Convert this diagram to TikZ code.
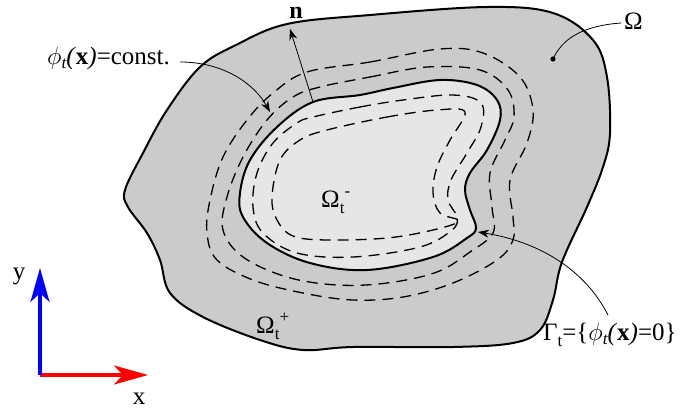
\documentclass[tikz,border=0pt]{standalone}
\usepackage{fontspec}
\setmainfont{Liberation Serif}
\usetikzlibrary{arrows.meta}
\definecolor{outerfill}{HTML}{CBCBCB}
\definecolor{innerfill}{HTML}{E6E6E6}
\newcommand{\subsz}{\fontsize{17}{19}\selectfont}
\newcommand{\phisym}{\ensuremath{\phi}}
\begin{document}
\begin{tikzpicture}[x=1pt,y=-1pt,
  lbl/.style={font=\fontsize{25}{29}\selectfont, inner sep=0pt},
  level/.style={dash pattern=on 11pt off 7pt, line width=1.3pt},
  bnd/.style={line width=2pt},
  lead/.style={line width=0.8pt,-{Stealth[length=11pt,width=8pt]}},
  axis/.style={line width=3.2pt,-{Stealth[length=34pt,width=19pt,inset=9pt]}}]
\useasboundingbox (0,0) rectangle (681,410);
% outer domain
\draw[bnd, fill=outerfill] plot[smooth cycle, tension=0.6] coordinates {
 (287,24) (370,15) (487,7) (553,13) (593,40) (607,77) (610,133) (603,167)
 (587,207) (562,262) (553,300) (540,330) (513,343) (453,347) (353,347)
 (303,350) (260,340) (203,317) (170,293) (160,260) (147,233) (128,207)
 (125,190) (143,153) (167,110) (200,67) (236,45)};
% outer level sets
\draw[level] plot[smooth cycle, tension=0.6] coordinates {
 (307,72) (370,62) (440,49) (483,53) (520,77) (533,110) (527,143) (510,180)
 (513,217) (513,240) (497,260) (453,283) (403,297) (353,300) (303,293)
 (253,280) (217,260) (207,233) (210,200) (223,157) (247,120) (273,93)};
\draw[level] plot[smooth cycle, tension=0.6] coordinates {
 (320,87) (370,77) (427,67) (480,70) (508,90) (514,117) (505,140) (490,173)
 (492,207) (493,233) (470,252) (437,272) (387,283) (337,285) (287,277)
 (243,257) (223,230) (227,197) (243,157) (267,120) (293,97)};
% inner domain
\draw[bnd, fill=innerfill] plot[smooth cycle, tension=0.6] coordinates {
 (313,102) (360,95) (393,88) (440,80) (477,85) (497,100) (500,120) (487,150)
 (470,173) (465,190) (470,210) (476,228) (467,238) (433,257) (367,270)
 (310,263) (267,243) (243,217) (240,193) (250,160) (277,127)};
% inner level sets
\draw[level] plot[smooth cycle, tension=0.6] coordinates {
 (313,117) (360,107) (403,100) (453,95) (481,103) (481,127) (467,153)
 (451,180) (448,200) (457,217) (452,230) (420,247) (353,257) (297,253)
 (263,233) (253,207) (257,173) (273,143) (297,123)};
\draw[level] plot[smooth cycle, tension=0.6] coordinates {
 (327,130) (387,117) (437,110) (465,112) (450,140) (437,167) (433,193)
 (440,213) (459,221) (433,230) (387,238) (327,240) (293,236) (277,220)
 (272,197) (280,160) (300,140)};
% normal vector
\coordinate (nfoot) at (313,102);
\node[lbl, font=\fontsize{24}{28}\selectfont\bfseries, anchor=base, text height=12pt] (nlab) at (296,18) {n};
\coordinate (ntip) at (290,29);
\draw[lead] (nfoot) -- (ntip);
% level set label
\node[lbl, anchor=base west] (phic) at (47,64) {\phisym\raisebox{-4pt}{\subsz\itshape t}\textit{(}\textbf{x}\textit{)}=const.};
\coordinate (phitip) at (270,112);
\coordinate (phistart) at (180,62);
\draw[lead] (phistart) .. controls (225,62) and (255,85) .. (phitip);
% Omega
\node[lbl, anchor=base west] (om) at (624,29) {Ω};
\coordinate (omdot) at (553,59);
\draw[line width=0.8pt] (621,23) coordinate (omstart) .. controls (580,26) and (562,40) .. (omdot);
\fill (omdot) circle (2.6pt);
% Omega minus / plus
\node[lbl, anchor=base west] (omm) at (321,207) {Ω\raisebox{-6pt}{\subsz t}\raisebox{11pt}{\subsz -}};
\node[lbl, anchor=base west] (omp) at (256,333) {Ω\raisebox{-6pt}{\subsz t}\raisebox{11pt}{\subsz +}};
% Gamma
\node[lbl, anchor=base west] (gam) at (543,340) {Γ\raisebox{-6pt}{\subsz t}=\{\phisym\raisebox{-4pt}{\subsz\itshape t}\textit{(}\textbf{x}\textit{)}=0\}};
\coordinate (gamtip) at (478,232);
\coordinate (gamstart) at (608,315);
\draw[lead] (gamstart) .. controls (585,270) and (540,242) .. (gamtip);
% axes
\coordinate (o) at (40,375);
\coordinate (xe) at (148,375);
\coordinate (ye) at (40,268);
\draw[axis, red] (o) -- (xe);
\draw[axis, blue] (o) -- (ye);
\node[lbl] (xl) at (139,399) {x};
\node[lbl] (yl) at (19,276) {y};
\end{tikzpicture}
\end{document}
